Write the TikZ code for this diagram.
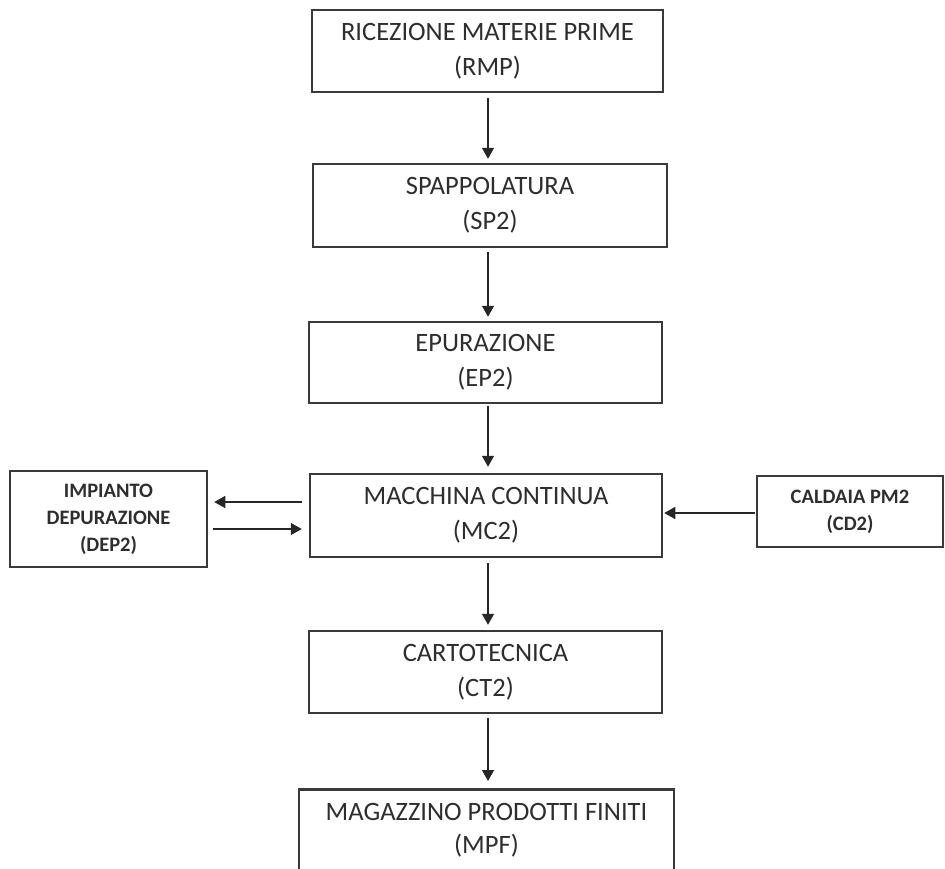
\documentclass[tikz,border=0pt]{standalone}
\usepackage{fontspec}
\setmainfont{Carlito}
\usetikzlibrary{arrows.meta}
\definecolor{edge}{HTML}{3A3A3A}
\definecolor{txt}{HTML}{2E2E2E}
\tikzset{
  box/.style={draw=edge, line width=2.5pt, rectangle, inner sep=0pt, text=txt, align=center,
    font=\fontsize{26.5}{35}\selectfont},
  sidebox/.style={box, font=\fontsize{20.5}{27}\selectfont\bfseries},
  arr/.style={draw=black!85, line width=1.4pt, -{Triangle[width=12pt,length=11pt]}},
}
\begin{document}
\begin{tikzpicture}[x=1pt,y=-1pt]
\useasboundingbox (0,0) rectangle (945,868);
\clip (0,0) rectangle (945,868);
\fill[white] (0,0) rectangle (945,868);
\node[box, minimum width=351pt, minimum height=82pt] (rmp) at (487.5,51) {RICEZIONE MATERIE PRIME\\(RMP)};
\node[box, minimum width=354pt, minimum height=83pt] (sp2) at (490,205.5) {SPAPPOLATURA\\(SP2)};
\node[box, minimum width=353pt, minimum height=81pt] (ep2) at (485.5,362.5) {EPURAZIONE\\(EP2)};
\node[box, minimum width=352pt, minimum height=83pt] (mc2) at (486,515.5) {MACCHINA CONTINUA\\(MC2)};
\node[box, minimum width=353pt, minimum height=82pt] (ct2) at (485.5,672) {CARTOTECNICA\\(CT2)};
\node[box, minimum width=375pt, minimum height=92pt, anchor=north] (mpf) at (486.5,788) {};
\node[text=txt, align=center, font=\fontsize{26.5}{33}\selectfont] (mpft) at (486.5,830) {MAGAZZINO PRODOTTI FINITI\\(MPF)};
\node[sidebox, minimum width=197pt, minimum height=96pt] (dep2) at (108.5,519) {IMPIANTO\\DEPURAZIONE\\(DEP2)};
\node[sidebox, minimum width=186pt, minimum height=71pt] (cd2) at (850,511.5) {CALDAIA PM2\\(CD2)};
\draw[arr, shorten <=5pt, shorten >=4pt] (rmp.south -| 488,0) -- (sp2.north -| 488,0);
\draw[arr, shorten <=4pt, shorten >=4pt] (sp2.south -| 488,0) -- (ep2.north -| 488,0);
\draw[arr, shorten <=2pt, shorten >=6pt] (ep2.south -| 488,0) -- (mc2.north -| 488,0);
\draw[arr, shorten <=5pt, shorten >=5pt] (mc2.south -| 488,0) -- (ct2.north -| 488,0);
\draw[arr, shorten <=4pt, shorten >=7pt] (ct2.south -| 488,0) -- (mpf.north -| 488,0);
\draw[arr, shorten <=7pt, shorten >=6pt] ([yshift=13.5pt]mc2.west) -- ([yshift=13.5pt]mc2.west -| dep2.east);
\draw[arr, shorten <=5pt, shorten >=7pt] ([yshift=-13.5pt]mc2.west -| dep2.east) -- ([yshift=-13.5pt]mc2.west);
\draw[arr, shorten <=1pt, shorten >=1pt] ([yshift=-1.5pt]cd2.west) -- ([yshift=-1.5pt]cd2.west -| mc2.east);
\end{tikzpicture}
\end{document}
